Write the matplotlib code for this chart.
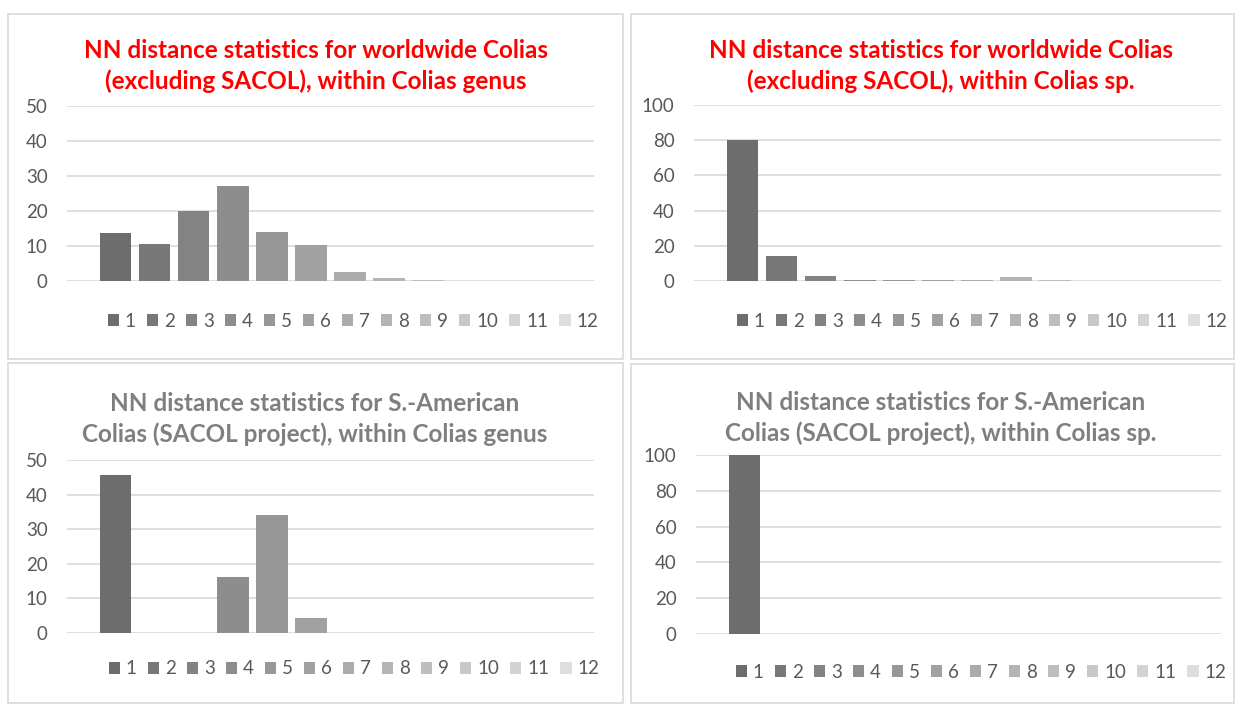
import matplotlib.pyplot as plt
from matplotlib.patches import Rectangle

# NN distance classes (legend entries)
classes = [str(i) for i in range(1, 13)]

# percentages
world_genus = [13.7, 10.6, 20.1, 27.2, 14.0, 10.3, 2.6, 0.9, 0.3, 0.1, 0.05, 0.02]
world_sp = [80.0, 14.2, 2.8, 0.4, 0.4, 0.4, 0.4, 2.3, 0.3, 0.2, 0.05, 0.0]
sacol_genus = [45.6, 0.0, 0.0, 16.2, 34.1, 4.4, 0.0, 0.0, 0.0, 0.0, 0.0, 0.0]
sacol_sp = [100.0, 0.0, 0.0, 0.0, 0.0, 0.0, 0.0, 0.0, 0.0, 0.0, 0.0, 0.0]

titles = [
    "NN distance statistics for worldwide Colias\n(excluding SACOL), within Colias genus",
    "NN distance statistics for worldwide Colias\n(excluding SACOL), within Colias sp.",
    "NN distance statistics for S.-American\nColias (SACOL project), within Colias genus",
    "NN distance statistics for S.-American\nColias (SACOL project), within Colias sp.",
]
title_colors = ["#ff0000", "#ff0000", "#7f7f7f", "#7f7f7f"]
yticks = [[0, 10, 20, 30, 40, 50], [0, 20, 40, 60, 80, 100],
          [0, 10, 20, 30, 40, 50], [0, 20, 40, 60, 80, 100]]

shades = ["#6d6d6d", "#787878", "#838383", "#8d8d8d", "#979797", "#a1a1a1",
          "#ababab", "#b4b4b4", "#bebebe", "#c8c8c8", "#d3d3d3", "#dedede"]

W, H = 1235, 704
plt.rcParams['font.family'] = ['Lato', 'DejaVu Sans']
fig = plt.figure(figsize=(W / 100, H / 100), dpi=100)


def px(x0, y0, x1, y1):
    # pixel box (top-left origin) -> figure fraction
    return [x0 / W, 1 - y1 / H, (x1 - x0) / W, (y1 - y0) / H]


# panel frames
for x0, y0, x1, y1 in [(8, 14, 623, 359), (631, 14, 1234, 359),
                       (8, 363, 623, 703), (631, 364, 1234, 703)]:
    fig.patches.append(Rectangle((x0 / W, 1 - y1 / H), (x1 - x0) / W, (y1 - y0) / H,
                                 transform=fig.transFigure, fill=False,
                                 edgecolor="#d9d9d9", linewidth=1.2))

axes_px = [(67, 106, 594, 281), (694, 105, 1221, 281),
           (67, 460, 594, 633), (696, 455, 1221, 634)]
title_px = [(316, 66), (941, 66), (315, 419), (941, 418)]
legend_px = [(353, 321), (982, 321), (354, 669), (981, 672)]
data = [world_genus, world_sp, sacol_genus, sacol_sp]

for i in range(4):
    ax = fig.add_axes(px(*axes_px[i]))
    bars = []
    for k, (lab, v) in enumerate(zip(classes, data[i])):
        b = ax.bar(k, v, width=0.8, color=shades[k], label=lab, zorder=2)
        bars.append(b)
    ax.set_xlim(-1.25, 12.25)
    ax.set_ylim(0, yticks[i][-1])
    ax.set_yticks(yticks[i])
    ax.set_xticks([])
    ax.yaxis.grid(True, color="#d9d9d9", linewidth=1.2, zorder=0)
    ax.set_axisbelow(True)
    for s in ax.spines.values():
        s.set_visible(False)
    ax.tick_params(axis='y', length=0, labelsize=13.5, labelcolor="#595959", pad=14)

    fig.text(title_px[i][0] / W, 1 - title_px[i][1] / H, titles[i],
             ha='center', va='center', fontsize=17.5, fontweight='bold',
             color=title_colors[i], linespacing=1.38)

    leg = fig.legend(handles=bars, labels=classes, ncol=12, loc='center',
                     bbox_to_anchor=(legend_px[i][0] / W, 1 - legend_px[i][1] / H),
                     frameon=False, fontsize=13.5, handlelength=0.6, handleheight=0.6,
                     handletextpad=0.3, columnspacing=0.6, borderpad=0)
    for t in leg.get_texts():
        t.set_color("#595959")

fig.savefig("out.png", dpi=100, facecolor="white")
